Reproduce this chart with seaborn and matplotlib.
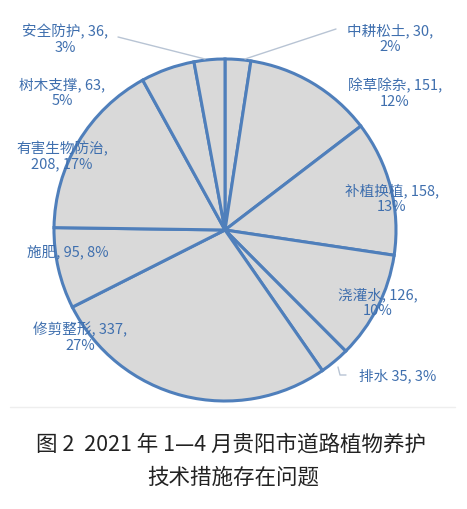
import matplotlib
matplotlib.use("Agg")
import matplotlib.pyplot as plt
import seaborn as sns

sns.set_theme(style="white")
plt.rcParams['font.family'] = ['Noto Sans CJK SC', 'DejaVu Sans']

categories = ["中耕松土", "除草除杂", "补植换植", "浇灌水", "排水",
              "修剪整形", "施肥", "有害生物防治", "树木支撑", "安全防护"]
values = [30, 151, 158, 126, 35, 337, 95, 208, 63, 36]
percents = ["2%", "12%", "13%", "10%", "3%", "27%", "8%", "17%", "5%", "3%"]
caption_lines = ["图 2  2021 年 1—4 月贵阳市道路植物养护", "技术措施存在问题"]

# label layout (pixel coords from top-left) and line breaks
label_pos = [(390, 39), (395, 93), (392, 199), (378, 303), (398, 376),
             (80, 337), (68, 252), (62, 156), (62, 93), (65, 39)]
label_fmt = ["{n}, {v},\n{p}", "{n}, {v},\n{p}", "{n}, {v},\n{p}", "{n}, {v},\n{p}",
             "{n} {v}, {p}", "{n}, {v},\n{p}", "{n}, {v}, {p}", "{n},\n{v}, {p}",
             "{n}, {v},\n{p}", "{n}, {v},\n{p}"]

W, H = 467, 510
fig = plt.figure(figsize=(W / 100, H / 100), dpi=100)
ax = fig.add_axes([0, 0, 1, 1])

blue = "#4f7fbb"
ax.pie(values, startangle=90, counterclock=False, center=(225, H - 231), radius=171,
       colors=["#d9d9d9"] * len(values),
       wedgeprops=dict(edgecolor=blue, linewidth=2.2), frame=True)
ax.set_xlim(0, W)
ax.set_ylim(0, H)
ax.axis("off")

txt_color = "#3f6fae"
for i, (x, y) in enumerate(label_pos):
    s = label_fmt[i].format(n=categories[i], v=values[i], p=percents[i])
    ax.text(x, H - y, s, ha="center", va="center", fontsize=10.5, color=txt_color,
            linespacing=1.15)

# leader lines
lc = "#b8c4d4"
ax.plot([118, 205], [H - 38, H - 60], color=lc, lw=1)
ax.plot([336, 245], [H - 30, H - 60], color=lc, lw=1)
ax.plot([338, 340, 346], [H - 368, H - 376, H - 376], color=lc, lw=1)

# faint chart border
ax.plot([10, 455], [H - 408, H - 408], color="#eeeeee", lw=1)

ax.text(W / 2 - 2, H - 445, caption_lines[0], ha="center", va="center",
        fontsize=15.5, color="#222222")
ax.text(W / 2, H - 478, caption_lines[1], ha="center", va="center",
        fontsize=15.5, color="#222222")

fig.savefig("out.png", dpi=100)
